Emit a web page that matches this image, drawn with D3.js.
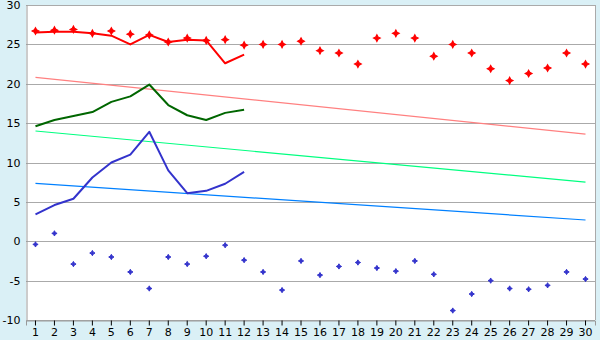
<!DOCTYPE html>
<html>
<head>
<meta charset="utf-8">
<script src="https://cdn.jsdelivr.net/npm/d3@7"></script>
<style>
  body { margin: 0; background: #daf0f6; }
  svg { display: block; font-family: "DejaVu Sans", sans-serif; }
</style>
</head>
<body>
<svg id="chart" width="600" height="340"></svg>
<script>
// categories 1..30
const days = ["1","2","3","4","5","6","7","8","9","10","11","12","13","14","15",
  "16","17","18","19","20","21","22","23","24","25","26","27","28","29","30"];

// red points (all 30) and red line (first 12)
const redPoints = [26.7, 26.8, 26.9, 26.4, 26.7, 26.3, 26.2, 25.3, 25.8, 25.5,
  25.6, 24.9, 25.0, 25.0, 25.4, 24.2, 23.9, 22.5, 25.8, 26.4,
  25.8, 23.5, 25.0, 23.9, 21.9, 20.4, 21.3, 22.0, 23.9, 22.5];
const redLine = [26.5, 26.6, 26.6, 26.4, 26.1, 25.0, 26.2, 25.3, 25.6, 25.5, 22.6, 23.7];

// green line (first 12)
const greenLine = [14.6, 15.4, 15.9, 16.4, 17.7, 18.4, 19.9, 17.3, 16.0, 15.4, 16.3, 16.7];

// blue line (first 12) and blue points (all 30)
const blueLine = [3.4, 4.6, 5.4, 8.1, 10.0, 11.0, 13.9, 9.0, 6.1, 6.4, 7.3, 8.8];
const bluePoints = [-0.4, 1.0, -2.9, -1.5, -2.0, -3.9, -6.0, -2.0, -2.9, -1.9,
  -0.5, -2.4, -3.9, -6.2, -2.5, -4.3, -3.2, -2.7, -3.4, -3.8,
  -2.5, -4.2, -8.8, -6.7, -5.0, -6.0, -6.1, -5.6, -3.9, -4.8];

// trend lines: value at day 1 and day 30
const trendDays = ["1", "30"];
const redTrend = [20.8, 13.6];
const greenTrend = [14.0, 7.5];
const blueTrend = [7.35, 2.7];

const yTicks = [-10, -5, 0, 5, 10, 15, 20, 25, 30];

const svg = d3.select("#chart");
const plotLeft = 26, plotRight = 595, plotTop = 5, plotBottom = 320;

const x = d3.scaleBand().domain(days).range([plotLeft, plotRight]);
const cx = d => x(d) + x.bandwidth() / 2;
const y = d3.scaleLinear().domain([-10, 30]).range([plotBottom, plotTop]);

// plot background
svg.append("rect")
  .attr("x", plotLeft).attr("y", plotTop)
  .attr("width", plotRight - plotLeft).attr("height", plotBottom - plotTop)
  .attr("fill", "#fff");

// grid lines
svg.append("g").selectAll("line")
  .data(yTicks)
  .enter().append("line")
  .attr("x1", plotLeft).attr("x2", plotRight)
  .attr("y1", d => Math.round(y(d)) + 0.5)
  .attr("y2", d => Math.round(y(d)) + 0.5)
  .attr("stroke", "#aaa");

// right border
svg.append("line")
  .attr("x1", plotRight + 0.5).attr("x2", plotRight + 0.5)
  .attr("y1", plotTop).attr("y2", plotBottom)
  .attr("stroke", "#aaa");

// y axis
const yAxis = svg.append("g")
  .attr("transform", `translate(${plotLeft + 0.5},0)`)
  .call(d3.axisLeft(y).tickValues(yTicks).tickSize(0).tickPadding(6).tickFormat(d => d));
yAxis.select(".domain").attr("stroke", "#999");
yAxis.selectAll("text").attr("font-size", 11).attr("fill", "#000")
  .attr("font-family", "DejaVu Sans, sans-serif");

// x axis
const xAxis = svg.append("g")
  .attr("transform", `translate(0,${plotBottom + 0.5})`)
  .call(d3.axisBottom(x).tickSize(5).tickPadding(3));
xAxis.select(".domain").attr("stroke", "#999");
xAxis.selectAll(".tick line").attr("stroke", "#000");
xAxis.selectAll("text").attr("font-size", 11).attr("fill", "#000")
  .attr("font-family", "DejaVu Sans, sans-serif");

// trend lines
const trendLine = d3.line().x((d, i) => cx(trendDays[i])).y(d => y(d));
[[redTrend, "#ff8080"], [greenTrend, "#00ff80"], [blueTrend, "#0080ff"]].forEach(([vals, col]) => {
  svg.append("path")
    .attr("d", trendLine(vals))
    .attr("fill", "none")
    .attr("stroke", col)
    .attr("stroke-width", 1.2);
});

// main lines
const line = d3.line().x((d, i) => cx(days[i])).y(d => y(d));
[[redLine, "#ff0000"], [greenLine, "#006600"], [blueLine, "#3333cc"]].forEach(([vals, col]) => {
  svg.append("path")
    .attr("d", line(vals))
    .attr("fill", "none")
    .attr("stroke", col)
    .attr("stroke-width", 2)
    .attr("stroke-linejoin", "round");
});

// square diamond marker with a small cross through it
const starMark = {
  draw(ctx, size) {
    const r = Math.sqrt(size) / 2;
    const w = r * 0.35;
    ctx.moveTo(0, -r);
    ctx.lineTo(w, -w);
    ctx.lineTo(r, 0);
    ctx.lineTo(w, w);
    ctx.lineTo(0, r);
    ctx.lineTo(-w, w);
    ctx.lineTo(-r, 0);
    ctx.lineTo(-w, -w);
    ctx.closePath();
  }
};

svg.append("g").selectAll("path")
  .data(redPoints)
  .enter().append("path")
  .attr("d", d3.symbol(starMark, 44)())
  .attr("transform", (d, i) => `translate(${cx(days[i])},${y(d)})`)
  .attr("fill", "#ff0000")
  .attr("stroke", "#ff0000")
  .attr("stroke-width", 1.2);

svg.append("g").selectAll("path")
  .data(bluePoints)
  .enter().append("path")
  .attr("d", d3.symbol(starMark, 28)())
  .attr("transform", (d, i) => `translate(${cx(days[i])},${y(d)})`)
  .attr("fill", "#3333cc")
  .attr("stroke", "#3333cc")
  .attr("stroke-width", 1);
</script>
</body>
</html>
